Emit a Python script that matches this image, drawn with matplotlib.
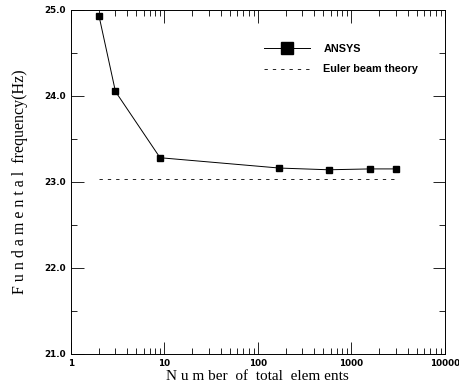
import matplotlib
matplotlib.use("Agg")
import matplotlib.pyplot as plt
from matplotlib.ticker import FixedLocator, FixedFormatter, LogLocator, NullFormatter
import numpy as np

# data
elements = [2, 3, 9, 170, 570, 1600, 3000]
ansys_freq = [24.93, 24.05, 23.28, 23.16, 23.14, 23.15, 23.15]
euler_x = [2, 3000]
euler_freq = [23.03, 23.03]

x_ticks = [1, 10, 100, 1000, 10000]
x_labels = ["1", "10", "100", "1000", "10000"]
y_ticks = [21.0, 22.0, 23.0, 24.0, 25.0]
y_labels = ["21.0", "22.0", "23.0", "24.0", "25.0"]

fig = plt.figure(figsize=(4.6, 3.91), dpi=100)
ax = fig.add_axes([0.154, 0.095, 0.813, 0.88])

ax.plot(elements, ansys_freq, color='black', lw=0.7, marker='s', ms=5,
        mfc='black', mec='black', label='ANSYS')
ax.plot(euler_x, euler_freq, color='black', lw=0.6, ls=(0, (4, 6)),
        label='Euler beam theory')

ax.set_xscale('log')
ax.set_xlim(1, 10000)
ax.set_ylim(21.0, 25.0)
ax.xaxis.set_major_locator(FixedLocator(x_ticks))
ax.xaxis.set_major_formatter(FixedFormatter(x_labels))
ax.xaxis.set_minor_locator(LogLocator(base=10, subs=np.arange(2, 10)))
ax.xaxis.set_minor_formatter(NullFormatter())
ax.yaxis.set_major_locator(FixedLocator(y_ticks))
ax.yaxis.set_major_formatter(FixedFormatter(y_labels))
ax.yaxis.set_minor_locator(FixedLocator([21.5, 22.5, 23.5, 24.5]))

ax.tick_params(which='both', direction='in', top=True, right=True,
               labelsize=6.3, width=0.6)
ax.tick_params(which='major', length=9)
ax.tick_params(which='minor', length=4)
for lab in ax.get_xticklabels() + ax.get_yticklabels():
    lab.set_fontweight('bold')
for s in ax.spines.values():
    s.set_linewidth(0.7)

ax.set_xlabel('N u m ber  of  total  elem ents', family='Liberation Serif',
              fontsize=11, labelpad=2)
ax.set_ylabel('F u n d a m e n t a l  frequency(Hz)', family='Liberation Serif',
              fontsize=11.5, labelpad=12)

leg = ax.legend(loc='upper right', bbox_to_anchor=(0.955, 0.93), frameon=False,
                handlelength=4.3, handletextpad=1.2, labelspacing=1.0,
                markerscale=1.7,
                prop={'family': 'Liberation Sans', 'size': 7.8, 'weight': 'bold'})

fig.savefig('out.png', dpi=100)
